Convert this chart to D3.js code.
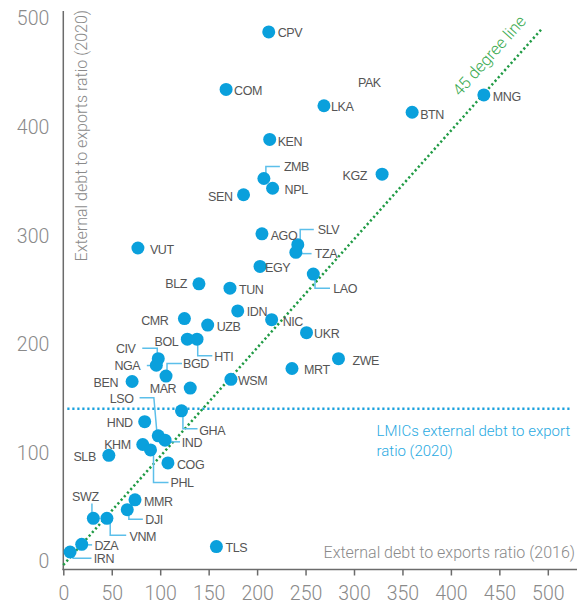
<!DOCTYPE html>
<html><head><meta charset="utf-8">
<script src="https://cdn.jsdelivr.net/npm/d3@7"></script>
<style>
html,body{margin:0;padding:0;background:#fff;}
svg{display:block;}
</style></head>
<body>
<svg id="chart" width="577" height="607"></svg>
<script>
// ---------- data ----------
const codes = ["CPV","COM","KEN","ZMB","NPL","SEN","AGO","VUT","EGY","BLZ","TUN","LKA","BTN","MNG","KGZ","SLV","TZA","LAO","CMR","UZB","IDN","NIC","BOL","HTI","CIV","NGA","BGD","BEN","MAR","WSM","GHA","HND","LSO","IND","KHM","PHL","SLB","COG","MMR","DJI","SWZ","VNM","DZA","IRN","TLS","UKR","ZWE","MRT"];
const ratio2016 = [212,168,213,207,216,186,205,77,203,140,172,269,360,434,329,242,240,258,125,149,180,215,128,138,98,96,106,71,131,173,122,84,98,105,82,90,47,108,74,66,31,45,19,7,158,251,284,236];
const ratio2020 = [491,438,392,356,347,341,305,292,275,259,255,423,417,433,360,295,288,268,227,221,234,226,208,208,190,184,174,169,163,171,142,132,119,115,111,106,101,94,60,51,43,43,19,12,17,214,190,181];
const labelOnly = [{code:"PAK", x:304, y:444}];
const lmicRatio2020 = 144;
const diagonalMax = 494;
const xTicks = [0,50,100,150,200,250,300,350,400,450,500];
const yTicks = [0,100,200,300,400,500];

// ---------- label layout (pixel offsets from the dot) ----------
const layout = {
  CPV:{dx:9,dy:1}, COM:{dx:8,dy:1}, KEN:{dx:8,dy:2},
  ZMB:{dx:20,dy:-12,leader:[[2,0],[2,-12],[16,-12]]},
  NPL:{dx:12,dy:1}, SEN:{dx:-11,dy:1.5,a:"end"}, AGO:{dx:8.7,dy:2},
  VUT:{dx:12,dy:2}, EGY:{dx:5,dy:1.5}, BLZ:{dx:-12,dy:0,a:"end"}, TUN:{dx:9,dy:1},
  LKA:{dx:7,dy:1}, BTN:{dx:8,dy:2}, MNG:{dx:9,dy:2}, KGZ:{dx:-15,dy:1,a:"end"},
  SLV:{dx:20,dy:-15.3,leader:[[2.4,0],[2.4,-15.3],[16,-15.3]]},
  TZA:{dx:19,dy:1.3,leader:[[0,1.3],[15.7,1.3]]},
  LAO:{dx:20,dy:14.3,leader:[[1.7,0],[1.7,14.3],[16.7,14.3]]},
  CMR:{dx:-16,dy:1.7,a:"end"}, UZB:{dx:9,dy:1}, IDN:{dx:9,dy:0.7}, NIC:{dx:11,dy:1.4},
  BOL:{dx:-9,dy:2.3,a:"end"},
  HTI:{dx:17.3,dy:17,leader:[[0.7,0],[0.7,16.5],[15.3,16.5]]},
  CIV:{dx:-22.7,dy:-10.5,a:"end",leader:[[-1,0],[-1,-10.5],[-16,-10.5]]},
  NGA:{dx:-16,dy:0.7,a:"end",leader:[[0,0.3],[-9.5,0.3]]},
  BGD:{dx:17,dy:-12.2,leader:[[1,0],[1,-12.7],[16,-12.7]]},
  BEN:{dx:-14,dy:1,a:"end"}, MAR:{dx:-14,dy:0.3,a:"end"}, WSM:{dx:7,dy:1},
  LSO:{dx:-24.7,dy:-37,a:"end",leader:[[-1.5,-5],[-4.4,-38],[-18.7,-38]]},
  GHA:{dx:17.7,dy:20,leader:[[1.4,0],[1.4,18],[16,18]]},
  HND:{dx:-12,dy:1,a:"end"},
  IND:{dx:16.7,dy:2.4,leader:[[0,1.7],[15,1.7]]},
  KHM:{dx:-12,dy:0,a:"end"},
  PHL:{dx:20,dy:32.6,leader:[[3,0],[3,32.6],[18,32.6]]},
  SLB:{dx:-13,dy:1,a:"end"}, COG:{dx:9,dy:1.3},
  MMR:{dx:9,dy:2},
  DJI:{dx:18,dy:10.3,leader:[[1.6,0],[1.6,9.6],[15.6,9.6]]},
  SWZ:{dx:-8,dy:-22,a:"middle",leader:[[-1.4,0],[-1.4,-14.7]]},
  VNM:{dx:22.6,dy:17.7,leader:[[3.3,0],[3.3,17],[19.3,17]]},
  DZA:{dx:12.7,dy:1,leader:[[0,0.5],[10.4,0.5]]},
  IRN:{dx:23.7,dy:7,leader:[[3,0],[3,6.4],[21.4,6.4]]},
  TLS:{dx:9,dy:1}, UKR:{dx:7.6,dy:1}, ZWE:{dx:14,dy:1.7}, MRT:{dx:12,dy:1}
};

// ---------- chart ----------
const svg = d3.select("#chart");
const x = d3.scaleLinear().domain([0,500]).range([63.3,547.8]);
const y = d3.scaleLinear().domain([0,500]).range([565,22.15]);
const axisY = 569.5;

const points = codes.map((c,i)=>({code:c, x:ratio2016[i], y:ratio2020[i]}));

const light = "Roboto, 'Open Sans', sans-serif";
const axisGrey = "#8a8a8a";

// y axis line
svg.append("line").attr("x1",x(0)).attr("x2",x(0)).attr("y1",11).attr("y2",axisY)
  .attr("stroke","#6b6b6b").attr("stroke-width",1.5);
// x axis line
svg.append("line").attr("x1",x(0)-1).attr("x2",577).attr("y1",axisY).attr("y2",axisY)
  .attr("stroke","#6b6b6b").attr("stroke-width",1.5);

// x axis ticks
const xg = svg.append("g").attr("transform",`translate(0,${axisY})`)
  .call(d3.axisBottom(x).tickValues(xTicks).tickSize(6).tickPadding(10).tickFormat(d3.format("d")));
xg.select(".domain").remove();
xg.selectAll(".tick line").attr("stroke","#6b6b6b").attr("stroke-width",1.5);
xg.selectAll(".tick text").attr("font-family",light).attr("font-weight",300)
  .attr("font-size",19.5).attr("fill",axisGrey).attr("dy","0.75em");

// y axis labels
const yg = svg.append("g").attr("transform",`translate(${x(0)},0)`)
  .call(d3.axisLeft(y).tickValues(yTicks).tickSize(0).tickPadding(14).tickFormat(d3.format("d")));
yg.select(".domain").remove();
yg.selectAll(".tick text").attr("font-family",light).attr("font-weight",300)
  .attr("font-size",19.5).attr("fill",axisGrey).attr("dy","0.32em")
  .attr("transform","translate(0,-3.5)");

// axis titles
svg.append("text").attr("x",575).attr("y",558).attr("text-anchor","end")
  .attr("font-family",light).attr("font-weight",300).attr("font-size",16).attr("fill",axisGrey)
  .text("External debt to exports ratio (2016)");
svg.append("text").attr("transform","translate(87,10) rotate(-90)").attr("text-anchor","end")
  .attr("font-family",light).attr("font-weight",300).attr("font-size",16).attr("fill",axisGrey)
  .text("External debt to exports ratio (2020)");

// LMICs dotted line
svg.append("line").attr("x1",x(0)+4).attr("x2",572).attr("y1",y(lmicRatio2020)).attr("y2",y(lmicRatio2020))
  .attr("stroke","#1ba1dd").attr("stroke-width",2.5).attr("stroke-dasharray","2.2,2.8");
const lt = svg.append("text").attr("x",376.5).attr("y",y(lmicRatio2020)+27.5)
  .attr("font-family",light).attr("font-weight",300).attr("font-size",16).attr("fill","#2aaae2");
const t1 = lt.append("tspan").attr("x",376.5).text("LMICs external debt to export");
lt.append("tspan").attr("x",376.5).attr("dy",20).text("ratio (2020)");
// fit first line into the available width
const w1 = t1.node().getComputedTextLength();
if (w1 > 194) lt.attr("font-size", 16 * 194 / w1);

// 45 degree line
svg.append("line").attr("x1",x(0)).attr("y1",y(0)).attr("x2",x(diagonalMax)).attr("y2",y(diagonalMax))
  .attr("stroke","#1f9a44").attr("stroke-width",2.5).attr("stroke-dasharray","2.2,2.6");
const ang = Math.atan2(y(0)-y(diagonalMax), x(diagonalMax)-x(0))*180/Math.PI;
svg.append("text").attr("transform",`translate(460,97) rotate(${-ang})`)
  .attr("font-family",light).attr("font-weight",300).attr("font-size",16.5).attr("fill","#3cab52")
  .text("45 degree line");

// leaders
const leaderLine = d3.line();
points.forEach(p=>{
  const L = layout[p.code];
  if(L && L.leader){
    const cx=x(p.x), cy=y(p.y);
    svg.append("path").attr("d",leaderLine(L.leader.map(([a,b])=>[cx+a,cy+b])))
      .attr("fill","none").attr("stroke","#5cbfea").attr("stroke-width",1.5);
  }
});

// dots
svg.append("g").selectAll("circle").data(points).join("circle")
  .attr("cx",d=>x(d.x)).attr("cy",d=>y(d.y)).attr("r",6.5).attr("fill","#0aa0dc");

// labels
const labFont = "'Liberation Sans', Arial, sans-serif";
svg.append("g").selectAll("text").data(points).join("text")
  .attr("x",d=>x(d.x)+(layout[d.code]?layout[d.code].dx:8))
  .attr("y",d=>y(d.y)+(layout[d.code]?layout[d.code].dy:0))
  .attr("dy","0.36em")
  .attr("text-anchor",d=>(layout[d.code]&&layout[d.code].a)||"start")
  .attr("font-family",labFont).attr("font-size",12.5).attr("letter-spacing",-0.4)
  .attr("fill","#555").text(d=>d.code);
svg.append("g").selectAll("text").data(labelOnly).join("text")
  .attr("x",d=>x(d.x)).attr("y",d=>y(d.y)).attr("dy","0.36em")
  .attr("font-family",labFont).attr("font-size",12.5).attr("letter-spacing",-0.4)
  .attr("fill","#555").text(d=>d.code);
</script>
</body></html>
